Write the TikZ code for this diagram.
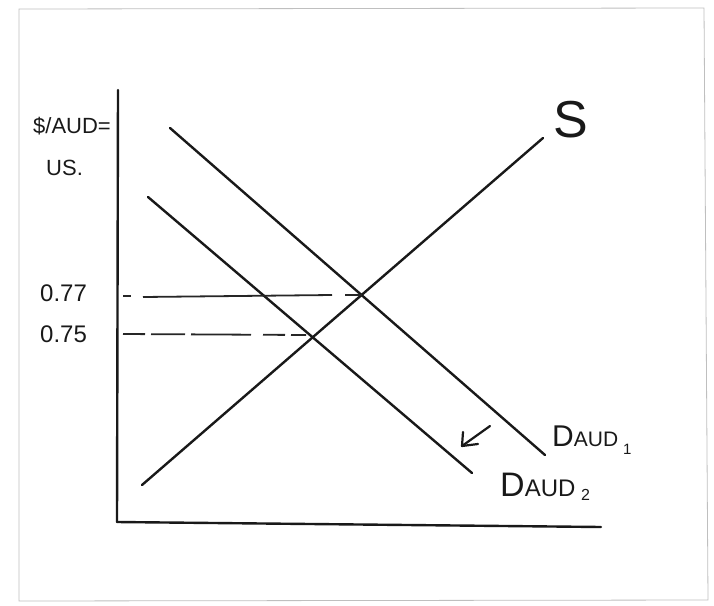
\documentclass[tikz,border=0pt]{standalone}
\usepackage{fontspec}
\setmainfont{Liberation Sans}
\begin{document}
\begin{tikzpicture}[x=1pt,y=-1pt,
  ink/.style={draw=black!90,line width=2.4pt,line cap=round},
  guide/.style={draw=black!85,line width=1.8pt},
  lab/.style={font=\fontsize{22}{24}\selectfont,text=black!90,inner sep=0pt}]
\useasboundingbox (0,0) rectangle (714,605);
\draw[black!25,line width=0.8pt] (19,9) -- (704,8) -- (708,600) -- (19,601) -- cycle;
% axes
\coordinate (ytop) at (118,90);
\coordinate (origin) at (117,522);
\coordinate (xend) at (601,527);
\draw[ink] (ytop) -- (origin);
\draw[ink] (origin) -- (xend);
% supply
\coordinate (s1) at (142,485);
\coordinate (s2) at (543,138);
\draw[ink] (s1) -- (s2);
% demand 1
\coordinate (d1a) at (170,128);
\coordinate (d1b) at (545,455);
\draw[ink] (d1a) -- (d1b);
% demand 2
\coordinate (d2a) at (148,197);
\coordinate (d2b) at (472,473);
\draw[ink] (d2a) -- (d2b);
% equilibria
\coordinate (e1) at (362,295);
\coordinate (e2) at (306,335);
\coordinate (y1) at (123,296);
\coordinate (y2) at (123,334);
\draw[guide] (y1) -- ++(8,0);
\draw[guide] (143,297) -- (332,295);
\draw[guide] (345,295) -- (e1);
\draw[guide,dash pattern=on 22pt off 6pt on 34pt off 6pt on 60pt off 12pt on 22pt off 6pt] (y2) -- (e2);
% shift arrow
\coordinate (ar1) at (490,426);
\coordinate (ar2) at (462,446);
\draw[ink,line width=2.2pt] (ar1) -- (ar2);
\draw[ink,line width=2.2pt,line join=round] (463,432) -- (ar2) -- (478,444);
% labels
\node[lab,anchor=west] (lp) at (33,126) {\$/AUD=};
\node[lab,anchor=west] (lus) at (46,168) {US.};
\node[lab,anchor=west,font=\fontsize{24}{26}\selectfont] (l77) at (40,293) {0.77};
\node[lab,anchor=west,font=\fontsize{24}{26}\selectfont] (l75) at (40,334) {0.75};
\node[lab,font=\fontsize{52}{54}\selectfont] (ls) at (571,120) {S};
\node[lab,anchor=west,font=\fontsize{30}{32}\selectfont] (ld1) at (552,440) {D{\fontsize{21}{23}\selectfont AUD}\,\raisebox{-8pt}{\fontsize{15}{17}\selectfont 1}};
\node[lab,anchor=west,font=\fontsize{34}{36}\selectfont] (ld2) at (500,487) {D{\fontsize{24}{26}\selectfont AUD}\,\raisebox{-4pt}{\fontsize{16}{18}\selectfont 2}};
\end{tikzpicture}
\end{document}
